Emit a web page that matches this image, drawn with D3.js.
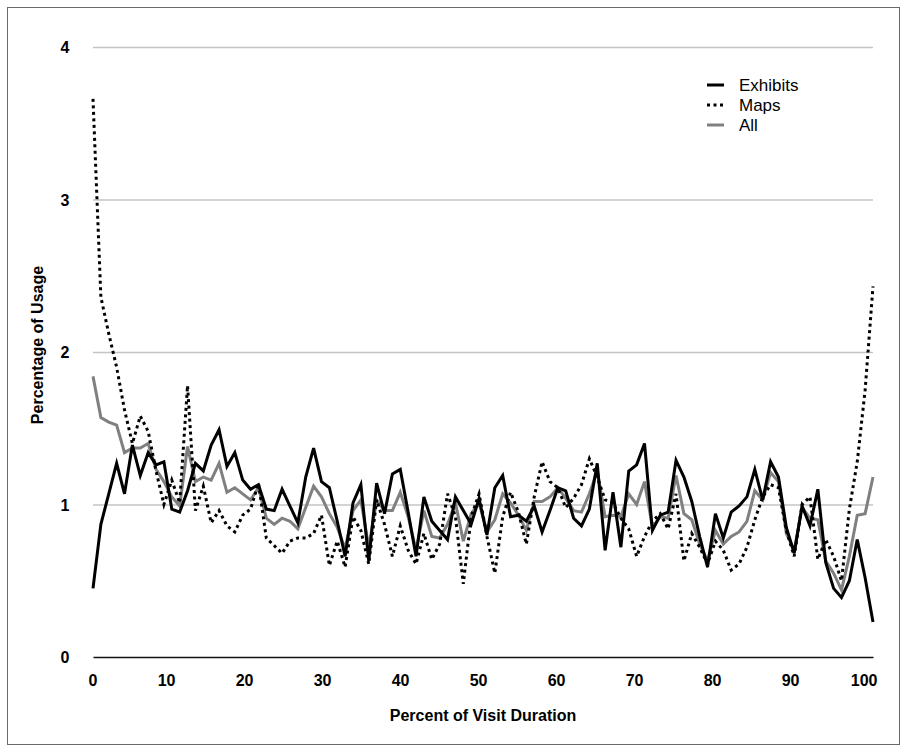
<!DOCTYPE html>
<html>
<head>
<meta charset="utf-8">
<script src="https://cdn.jsdelivr.net/npm/d3@7/dist/d3.min.js"></script>
<style>
  body { margin: 0; background: #fff; }
  svg { display: block; font-family: "Liberation Sans", Arial, Helvetica, sans-serif; }
  .tick text { font-size: 16px; font-weight: bold; fill: #000; }
  .label { font-size: 16px; font-weight: bold; }
  .legend text { font-size: 17px; }
</style>
</head>
<body>
<div id="chart"></div>
<script>
// usage share per visit-duration slice (100 samples from 0 to 100 %)
var exhibits = [0.45,0.87,1.07,1.27,1.07,1.39,1.19,1.34,1.26,1.28,
  0.97,0.95,1.09,1.27,1.22,1.39,1.49,1.25,1.34,1.16,
  1.10,1.13,0.97,0.96,1.10,0.99,0.88,1.18,1.37,1.15,
  1.11,0.89,0.66,1.01,1.13,0.63,1.14,0.94,1.20,1.23,
  0.95,0.66,1.05,0.89,0.83,0.77,1.05,0.96,0.87,1.04,
  0.80,1.11,1.19,0.92,0.93,0.89,0.99,0.82,0.96,1.11,
  1.09,0.91,0.86,0.97,1.27,0.70,1.08,0.72,1.22,1.26,
  1.40,0.83,0.93,0.95,1.29,1.18,1.02,0.79,0.59,0.94,
  0.78,0.95,0.99,1.05,1.23,1.03,1.28,1.18,0.85,0.68,
  0.99,0.86,1.10,0.62,0.45,0.39,0.50,0.77,0.52,0.23];

var maps = [3.66,2.36,2.12,1.90,1.62,1.40,1.58,1.48,1.22,1.00,
  1.16,1.01,1.78,0.96,1.12,0.88,0.96,0.86,0.82,0.93,
  0.97,1.14,0.78,0.73,0.68,0.76,0.78,0.78,0.81,0.93,
  0.60,0.76,0.59,0.92,0.83,0.61,1.03,0.87,0.66,0.86,
  0.70,0.61,0.81,0.64,0.74,1.07,0.92,0.48,0.92,1.07,
  0.79,0.55,0.92,1.08,0.95,0.74,1.05,1.28,1.15,1.11,
  0.98,1.04,1.13,1.30,1.18,1.03,1.01,0.91,0.84,0.66,
  0.79,0.89,0.94,0.84,1.07,0.63,0.81,0.72,0.61,0.76,
  0.70,0.57,0.61,0.72,0.90,1.05,1.13,1.11,0.83,0.66,
  1.00,1.05,0.64,0.77,0.66,0.50,0.97,1.28,1.75,2.43];

var all = [1.84,1.57,1.54,1.52,1.34,1.37,1.37,1.40,1.23,1.15,
  1.05,0.99,1.38,1.15,1.18,1.16,1.27,1.08,1.11,1.07,
  1.03,1.11,0.91,0.87,0.91,0.89,0.84,0.98,1.12,1.05,
  0.94,0.85,0.71,0.96,1.03,0.72,1.03,0.96,0.96,1.08,
  0.92,0.70,0.96,0.79,0.78,0.87,1.01,0.76,0.94,1.01,
  0.82,0.90,1.07,1.01,0.93,0.83,1.02,1.02,1.05,1.11,
  1.04,0.96,0.95,1.07,1.22,0.92,0.93,0.92,1.07,1.00,
  1.15,0.85,0.92,0.91,1.19,0.94,0.90,0.74,0.63,0.83,
  0.74,0.79,0.82,0.89,1.09,1.03,1.21,1.15,0.81,0.70,
  0.98,0.91,0.90,0.63,0.55,0.44,0.66,0.93,0.94,1.18];

var seriesNames = ["Exhibits", "Maps", "All"];
var xTicks = [0,10,20,30,40,50,60,70,80,90,100];
var yTicks = [0,1,2,3,4];

var W = 907, H = 752;
var margin = {top: 47, right: 34, bottom: 95, left: 93};
var width = W - margin.left - margin.right;
var height = H - margin.top - margin.bottom;

var x = d3.scaleLinear().domain([0, 100]).range([0, width]);
// sample index -> position along the 0..100 axis
var xi = d3.scaleLinear().domain([0, exhibits.length - 1]).range([0, width]);
var y = d3.scaleLinear().domain([0, 4]).range([height, 0]);

var svg = d3.select("#chart").append("svg")
    .attr("width", W)
    .attr("height", H);

// outer frame
svg.append("rect")
    .attr("x", 7.5).attr("y", 7.5)
    .attr("width", 892).attr("height", 737)
    .attr("fill", "#fff")
    .attr("stroke", "#6a6a6a")
    .attr("stroke-width", 1);

var g = svg.append("g")
    .attr("transform", "translate(" + margin.left + "," + margin.top + ")");

// gridlines + y labels
var yAxis = g.append("g")
    .call(d3.axisLeft(y).tickValues(yTicks).tickSize(-width).tickFormat(d3.format("d")));
yAxis.select(".domain").remove();
yAxis.selectAll(".tick line")
    .attr("stroke", "#c4c4c4")
    .attr("stroke-width", 1.5)
    .filter(function(d) { return d === 0; }).remove();
yAxis.selectAll(".tick text")
    .attr("x", -28)
    .attr("text-anchor", "middle")
    .attr("dy", "0.36em");

// x axis
var xAxis = g.append("g")
    .attr("transform", "translate(0," + height + ")")
    .call(d3.axisBottom(x).tickValues(xTicks).tickSize(0));
xAxis.select(".domain")
    .attr("stroke", "#111")
    .attr("stroke-width", 1.5);
xAxis.selectAll(".tick text")
    .attr("y", 18)
    .attr("dy", "0.71em")
    .attr("text-anchor", "end")
    .attr("x", 4);

var line = d3.line()
    .x(function(d, i) { return xi(i); })
    .y(function(d) { return y(d); });

g.append("path")
    .datum(all)
    .attr("fill", "none")
    .attr("stroke", "#808080")
    .attr("stroke-width", 3)
    .attr("d", line);

g.append("path")
    .datum(maps)
    .attr("fill", "none")
    .attr("stroke", "#000")
    .attr("stroke-width", 3)
    .attr("stroke-dasharray", "3,3.5")
    .attr("d", line);

g.append("path")
    .datum(exhibits)
    .attr("fill", "none")
    .attr("stroke", "#000")
    .attr("stroke-width", 3)
    .attr("d", line);

// axis titles
g.append("text")
    .attr("class", "label")
    .attr("x", width / 2)
    .attr("y", height + 64)
    .attr("text-anchor", "middle")
    .text("Percent of Visit Duration");

g.append("text")
    .attr("class", "label")
    .attr("transform", "rotate(-90)")
    .attr("x", -(height / 2) + 7)
    .attr("y", -50)
    .attr("text-anchor", "middle")
    .text("Percentage of Usage");

// legend
var swatch = [
  {color: "#000", dash: null},
  {color: "#000", dash: "3,3.5"},
  {color: "#808080", dash: null}
];
var legend = svg.append("g").attr("class", "legend")
    .attr("transform", "translate(707,85)");
seriesNames.forEach(function(name, i) {
  var row = legend.append("g").attr("transform", "translate(0," + (i * 20) + ")");
  row.append("line")
      .attr("x1", 0).attr("x2", 17)
      .attr("stroke", swatch[i].color)
      .attr("stroke-width", 3)
      .attr("stroke-dasharray", swatch[i].dash);
  row.append("text")
      .attr("x", 32)
      .attr("dy", "0.36em")
      .text(name);
});
</script>
</body>
</html>
